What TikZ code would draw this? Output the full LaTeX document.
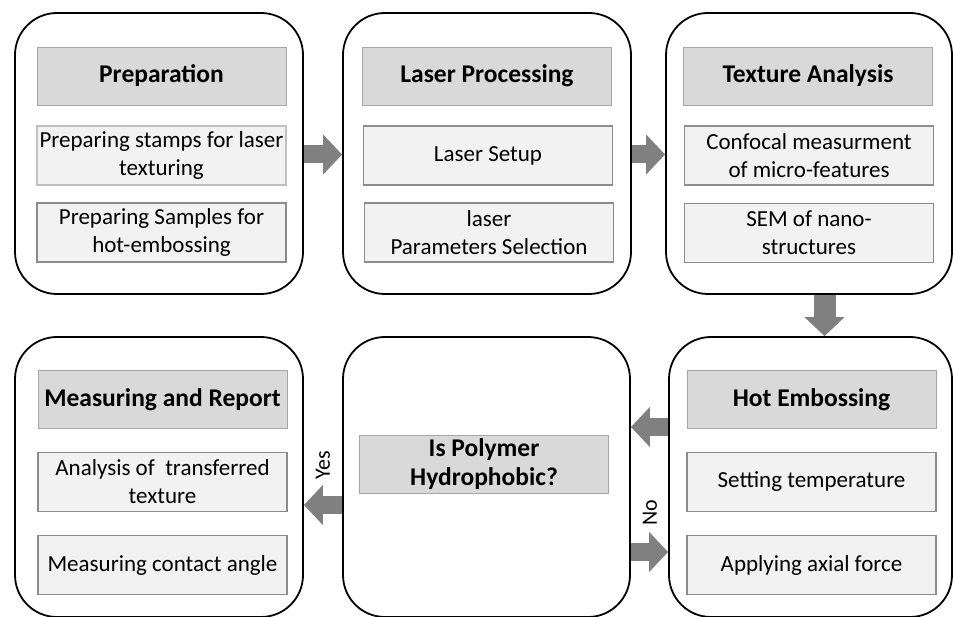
\documentclass[tikz,border=0pt]{standalone}
\usepackage{fontspec}
\setmainfont{Carlito}
\usetikzlibrary{arrows.meta}
\definecolor{headgray}{HTML}{D9D9D9}
\definecolor{subgray}{HTML}{F2F2F2}
\definecolor{edgegray}{HTML}{A6A6A6}
\definecolor{subedge}{HTML}{8C8C8C}
\definecolor{arrowgray}{HTML}{808080}
\tikzset{
  stage/.style={draw,line width=1.8pt,rounded corners=42pt,inner sep=0pt},
  headbox/.style={draw=edgegray,fill=headgray,line width=0.8pt,minimum width=249pt,minimum height=58pt,
    align=center,inner sep=0pt,font=\fontsize{25.5}{29}\selectfont\bfseries},
  subbox/.style={draw=subedge,fill=subgray,line width=1.6pt,minimum width=249pt,minimum height=59pt,
    align=center,inner sep=0pt,font=\fontsize{23}{28}\selectfont},
  flowarrow/.style={arrowgray,line width=18pt,-{Triangle[length=19pt,width=39pt]}},
  answer/.style={rotate=90,inner sep=0pt,font=\fontsize{22}{26}\selectfont}
}
\begin{document}
\begin{tikzpicture}[x=1pt,y=-1pt]
\useasboundingbox (0,0) rectangle (953,617);
\clip (0,0) rectangle (953,617);
\node[stage,minimum width=288pt,minimum height=281pt] (prep) at (159,153.5) {};
\node[stage,minimum width=288pt,minimum height=281pt] (laser) at (487,153.5) {};
\node[stage,minimum width=286pt,minimum height=281pt] (tex) at (809,153.5) {};
\node[stage,minimum width=288pt,minimum height=280pt] (meas) at (159,477) {};
\node[stage,minimum width=287pt,minimum height=280pt] (poly) at (486.5,477) {};
\node[stage,minimum width=283pt,minimum height=280pt] (hot) at (810.5,477) {};

\node[headbox] (prephead) at (161.5,76) {Preparation};
\node[subbox,draw=edgegray!70] (stamps) at (161.5,155.5) {Preparing stamps for laser\\texturing};
\node[subbox] (samples) at (161.5,232.5) {Preparing Samples for\\hot-embossing};

\node[headbox] (laserhead) at (487,76) {Laser Processing};
\node[subbox] (setup) at (488,155.5) {Laser Setup};
\node[subbox] (params) at (489,232.5) {laser\\Parameters Selection};

\node[headbox] (texhead) at (808,76) {Texture Analysis};
\node[subbox] (confocal) at (809,155.5) {Confocal measurment\\of micro-features};
\node[subbox] (sem) at (809,233) {SEM of nano-\\structures};

\node[headbox] (hothead) at (811.5,399.5) {Hot Embossing};
\node[subbox] (temp) at (811.5,482) {Setting temperature};
\node[subbox] (force) at (811.5,565) {Applying axial force};

\node[headbox] (question) at (484,464.5) {Is Polymer\\Hydrophobic?};

\node[headbox] (meashead) at (162.5,399.5) {Measuring and Report};
\node[subbox] (transfer) at (162.5,482) {Analysis of~ transferred\\texture};
\node[subbox] (angle) at (162.5,565) {Measuring contact angle};

\draw[flowarrow] ([yshift=-1pt]prep.east) -- ([yshift=-1pt]laser.west);
\draw[flowarrow] ([yshift=-1pt]laser.east) -- ([yshift=-1pt]tex.west);
\draw[flowarrow,line width=22pt] ([xshift=15.5pt]tex.south) -- ([xshift=15.5pt]tex.south |- hot.north);
\draw[flowarrow] ([yshift=50pt]hot.west) -- ([yshift=50pt]poly.east);
\draw[flowarrow] ([yshift=-75pt]poly.east) -- ([yshift=-75pt]hot.west);
\draw[flowarrow] ([yshift=-28pt]poly.west) -- ([yshift=-28pt]meas.east);

\node[answer] (yes) at (323,465) {Yes};
\node[answer] (no) at (650,513) {No};
\end{tikzpicture}
\end{document}
